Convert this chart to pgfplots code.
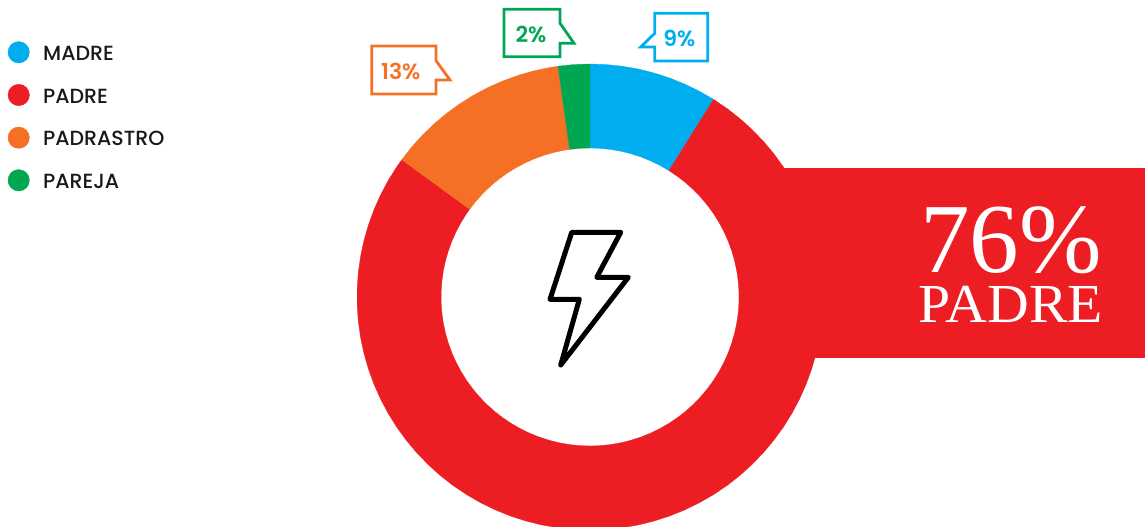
\documentclass[border=0pt]{standalone}
\usepackage{pgfplots}
\pgfplotsset{compat=1.18}
\usepackage{fontspec}
\setmainfont{Poppins}
\newfontfamily\legfont{Poppins Medium}
\newfontfamily\calfont{Poppins SemiBold}
\newfontfamily\slabfont{Liberation Serif}
\definecolor{cblue}{HTML}{00AEEF}
\definecolor{cred}{HTML}{ED1D24}
\definecolor{corange}{HTML}{F57024}
\definecolor{cgreen}{HTML}{00A651}
\begin{document}
\begin{tikzpicture}
\useasboundingbox (0,0) rectangle (1145pt,527pt);
\begin{axis}[
  at={(0,0)},anchor=south west,
  scale only axis,width=1145pt,height=527pt,
  xmin=-590,xmax=555,ymin=-230,ymax=297,
  hide axis,
  clip=false,
]
% panel
\addplot[fill=cred,draw=none] coordinates {(170,129)(555,129)(555,-61)(170,-61)} --cycle;
% donut: angle, radius
\addplot[data cs=polar,fill=cblue,draw=cblue,line width=0.3pt] coordinates {
(90,233)(86,233)(82,233)(78,233)(74,233)(70,233)(66,233)(62,233)(58,233)
(58,149)(62,149)(66,149)(70,149)(74,149)(78,149)(82,149)(86,149)(90,149)} --cycle;
\addplot[data cs=polar,fill=cred,draw=cred,line width=0.3pt] coordinates {
(58,233)(54,233)(50,233)(46,233)(42,233)(38,233)(34,233)(30,233)(26,233)(22,233)(18,233)(14,233)(10,233)(6,233)(2,233)
(-2,233)(-6,233)(-10,233)(-14,233)(-18,233)(-22,233)(-26,233)(-30,233)(-34,233)(-38,233)(-42,233)(-46,233)(-50,233)(-54,233)(-58,233)
(-62,233)(-66,233)(-70,233)(-74,233)(-78,233)(-82,233)(-86,233)(-90,233)(-94,233)(-98,233)(-102,233)(-106,233)(-110,233)(-114,233)(-118,233)
(-122,233)(-126,233)(-130,233)(-134,233)(-138,233)(-142,233)(-146,233)(-150,233)(-154,233)(-158,233)(-162,233)(-166,233)(-170,233)(-174,233)(-178,233)
(-182,233)(-186,233)(-190,233)(-194,233)(-198,233)(-202,233)(-206,233)(-210,233)(-214,233)(-216.1,233)
(-216.1,149)(-214,149)(-210,149)(-206,149)(-202,149)(-198,149)(-194,149)(-190,149)(-186,149)(-182,149)
(-178,149)(-174,149)(-170,149)(-166,149)(-162,149)(-158,149)(-154,149)(-150,149)(-146,149)(-142,149)
(-138,149)(-134,149)(-130,149)(-126,149)(-122,149)(-118,149)(-114,149)(-110,149)(-106,149)(-102,149)
(-98,149)(-94,149)(-90,149)(-86,149)(-82,149)(-78,149)(-74,149)(-70,149)(-66,149)(-62,149)
(-58,149)(-54,149)(-50,149)(-46,149)(-42,149)(-38,149)(-34,149)(-30,149)(-26,149)(-22,149)
(-18,149)(-14,149)(-10,149)(-6,149)(-2,149)(2,149)(6,149)(10,149)(14,149)(18,149)
(22,149)(26,149)(30,149)(34,149)(38,149)(42,149)(46,149)(50,149)(54,149)(58,149)} --cycle;
\addplot[data cs=polar,fill=corange,draw=corange,line width=0.3pt] coordinates {
(143.9,233)(140,233)(136,233)(132,233)(128,233)(124,233)(120,233)(116,233)(112,233)(108,233)(104,233)(100,233)(97.9,233)
(97.9,149)(100,149)(104,149)(108,149)(112,149)(116,149)(120,149)(124,149)(128,149)(132,149)(136,149)(140,149)(143.9,149)} --cycle;
\addplot[data cs=polar,fill=cgreen,draw=cgreen,line width=0.3pt] coordinates {
(97.9,233)(94,233)(90,233)(90,149)(94,149)(97.9,149)} --cycle;
% bolt
\addplot[draw=black,line width=5pt,line join=round] coordinates {(-18.3,64.7)(30.7,64.7)(6.7,19.7)(38.3,19.7)(-29.3,-68)(-10.7,-2.3)(-40,-2.3)} --cycle;
% callouts
\addplot[draw=cgreen,line width=2.8pt,line join=miter] coordinates {(-86,287.7)(-30,287.7)(-30,273.7)(-16,253.7)(-30,253.7)(-30,240.3)(-86,240.3)} --cycle;
\addplot[draw=corange,line width=2.8pt,line join=miter] coordinates {(-218.3,251)(-154,251)(-154,236.3)(-140,217)(-154,217)(-154,203)(-218.3,203)} --cycle;
\addplot[draw=cblue,line width=2.8pt,line join=miter] coordinates {(117.7,283.7)(64.7,283.7)(64.7,263.7)(50.7,250)(64.7,250)(64.7,236)(117.7,236)} --cycle;
% legend markers
\addplot[only marks,mark=*,mark size=10.7pt,color=cblue,mark options={draw=none}] coordinates {(-571.3,244.7)};
\addplot[only marks,mark=*,mark size=10.7pt,color=cred,mark options={draw=none}] coordinates {(-571.3,202)};
\addplot[only marks,mark=*,mark size=10.7pt,color=corange,mark options={draw=none}] coordinates {(-571.3,159.3)};
\addplot[only marks,mark=*,mark size=10.7pt,color=cgreen,mark options={draw=none}] coordinates {(-571.3,116.7)};
% legend text
\tikzset{lg/.style={anchor=base west,inner sep=0pt,font=\legfont\fontsize{20.5}{22}\selectfont,text=black!90}}
\node[lg] at (axis cs:-547,236) {MADRE};
\node[lg] at (axis cs:-547,193.3) {PADRE};
\node[lg] at (axis cs:-547,151) {PADRASTRO};
\node[lg] at (axis cs:-547,108.3) {PAREJA};
% callout text
\tikzset{ct/.style={anchor=center,inner sep=0pt,font=\calfont\fontsize{22}{24}\selectfont}}
\node[ct,text=cgreen] at (axis cs:-59,263) {2\%};
\node[ct,text=corange] at (axis cs:-189.3,226) {13\%};
\node[ct,text=cblue] at (axis cs:89.3,258.7) {9\%};
% panel text
\node[anchor=base east,inner sep=0pt,text=white,font=\slabfont\fontsize{99}{101}\selectfont] at (axis cs:512,24) {76\%};
\node[anchor=base east,inner sep=0pt,text=white,font=\slabfont\fontsize{55}{57}\selectfont] at (axis cs:513,-26) {\scalebox{1.05}[1]{PADRE}};
\end{axis}
\end{tikzpicture}
\end{document}
